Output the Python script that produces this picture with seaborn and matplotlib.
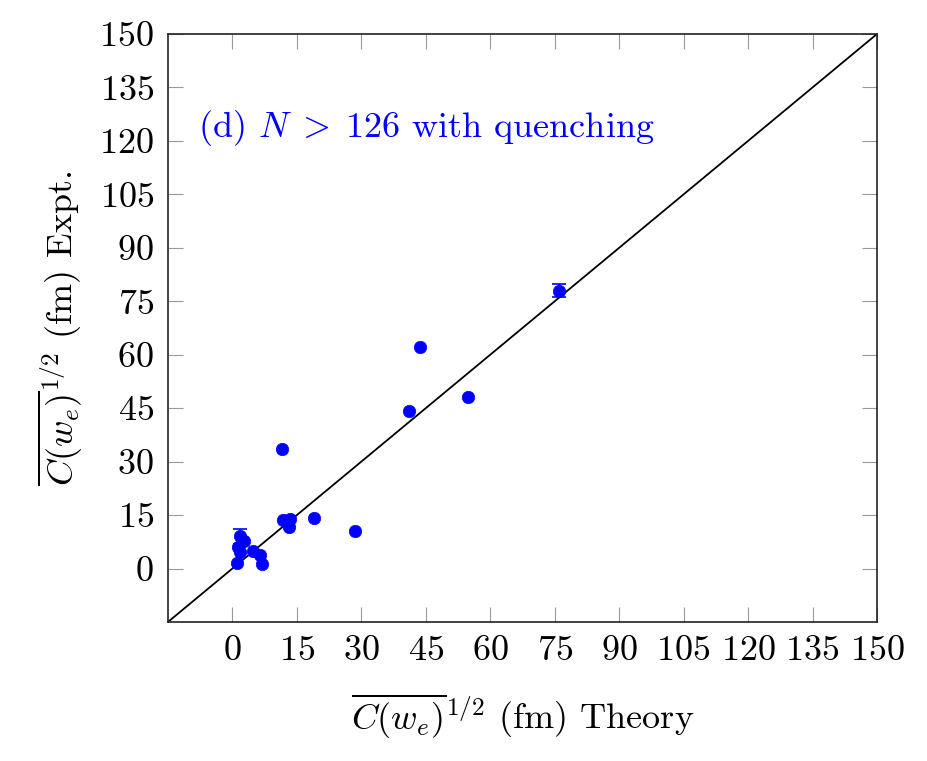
import numpy as np
import pandas as pd
import matplotlib
matplotlib.use('Agg')
import matplotlib.pyplot as plt
import seaborn as sns

theory = [11.6, 11.8, 13.5, 13.1, 18.9, 28.6, 1.7, 2.6, 1.2, 1.7, 1.1, 4.8, 6.4, 6.9,
          43.7, 41.2, 54.8, 75.9]
expt = [33.6, 13.7, 14.0, 11.7, 14.2, 10.5, 9.1, 7.7, 6.0, 4.6, 1.6, 5.0, 3.9, 1.4,
        62.3, 44.1, 48.0, 78.0]
expt_err = [0.0, 0.0, 0.0, 0.0, 0.0, 0.0, 2.1, 0.0, 0.0, 0.0, 0.0, 0.0, 0.0, 0.0,
            0.0, 0.0, 0.0, 1.8]
diag = [-15, 150]
ticks = list(range(0, 151, 15))

df = pd.DataFrame({'theory': theory, 'expt': expt, 'err': expt_err})

sns.set_style('ticks')
plt.rcParams['font.family'] = 'serif'
plt.rcParams['font.serif'] = ['cmr10']
plt.rcParams['mathtext.fontset'] = 'cm'
plt.rcParams['axes.unicode_minus'] = False
plt.rcParams['axes.formatter.use_mathtext'] = True
plt.rcParams['text.color'] = 'black'
plt.rcParams['axes.labelcolor'] = 'black'
plt.rcParams['xtick.labelcolor'] = 'black'
plt.rcParams['ytick.labelcolor'] = 'black'

fs = 26

fig = plt.figure(figsize=(9.28, 7.61), dpi=100)
ax = fig.add_axes([0.181, 0.1827, 0.764, 0.7726])

ax.plot(diag, diag, color='black', lw=1.3, zorder=1)

# error bars only where they exist
eb = df[df.err > 0]
ax.errorbar(eb.theory, eb.expt, yerr=eb.err, fmt='none', ecolor='blue',
            elinewidth=1.2, capsize=5, capthick=1.2, zorder=2)
sns.scatterplot(data=df, x='theory', y='expt', ax=ax, color='blue', s=80,
                edgecolor='blue', linewidth=0.5, zorder=3, legend=False)

ax.set_xlim(-15, 150)
ax.set_ylim(-15, 150)
ax.set_xticks(ticks)
ax.set_yticks(ticks)
ax.tick_params(direction='in', length=11, width=0.8, color='#999999',
               labelsize=fs, pad=10, top=True, right=True)
for s in ax.spines.values():
    s.set_linewidth(1.2)
    s.set_color('#222222')
    s.set_visible(True)

ax.set_xlabel(r'${\overline{C(w_e)}}^{1/2}$ (fm) Theory', fontsize=fs, labelpad=17)
ax.set_ylabel(r'${\overline{C(w_e)}}^{1/2}$ (fm) Expt.', fontsize=fs, labelpad=10)
ax.text(-8, 123.5, r'(d) $N \;>\; 126$ with quenching', color='blue', fontsize=fs,
        va='center', ha='left')

fig.savefig('out.png', dpi=100)
